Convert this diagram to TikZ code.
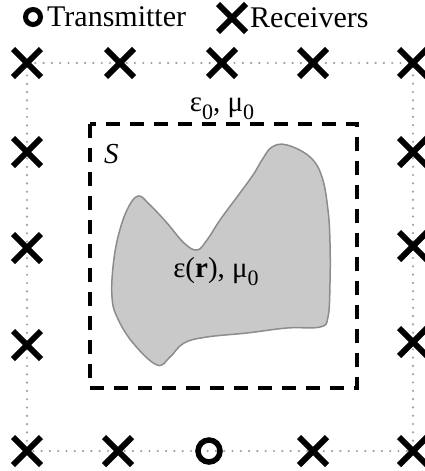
\documentclass[tikz,border=0pt]{standalone}
\usepackage{fontspec}
\setmainfont{Liberation Serif}
\usetikzlibrary{shapes.misc, positioning, calc}
\tikzstyle{receiver} = [cross out, draw=black, line width=6pt, minimum size=22pt, inner sep=0pt]
\tikzstyle{transmitter} = [circle, draw=black, line width=5.5pt, minimum size=22pt, inner sep=0pt]
\tikzstyle{dotline} = [draw=black!38, line width=2.4pt, line cap=round, dash pattern=on 0pt off 8.3pt]
\tikzstyle{regionbox} = [draw=black, line width=3.8pt, dash pattern=on 14pt off 10pt]
\tikzstyle{txt} = [inner sep=0pt, font=\fontsize{29}{31}\selectfont]
\tikzstyle{legtxt} = [inner sep=0pt, font=\fontsize{30}{32}\selectfont]
\newcommand{\lowsub}[1]{\raisebox{-0.3em}{\fontsize{22}{22}\selectfont #1}}

\begin{document}
\begin{tikzpicture}[x=1pt, y=-1pt]
    \useasboundingbox (0,0) rectangle (425,471);

    % Array positions
    \coordinate (t1) at (27,63);
    \coordinate (t2) at (120,63);
    \coordinate (t3) at (222,63);
    \coordinate (t4) at (313,63);
    \coordinate (t5) at (413,63);
    \coordinate (b1) at (27,451);
    \coordinate (b2) at (118,451);
    \coordinate (b3) at (209,451);
    \coordinate (b4) at (313,451);
    \coordinate (b5) at (413,451);
    \coordinate (l1) at (27,152);
    \coordinate (l2) at (27,248);
    \coordinate (l3) at (27,345);
    \coordinate (r1) at (413,152);
    \coordinate (r2) at (413,246);
    \coordinate (r3) at (413,342);

    % Measurement surface
    \draw [dotline] (t1) -- (t5) -- (b5) -- (b1) -- cycle;

    % Domain S
    \draw [regionbox] (90,124) rectangle (357,388);
    \node (S) [txt, anchor=base west, font=\fontsize{29}{31}\selectfont\itshape] at (104,163) {S};

    % Scatterer
    \draw [fill=black!21, draw=black!45, line width=1.5pt]
        plot [smooth cycle, tension=0.65] coordinates {
        (138,196) (127,210) (118,237) (113,267) (112,297) (117,317) (133,343)
        (157,365) (170,357) (184,343) (207,337) (247,333) (287,328) (320,327)
        (328,317) (330,283) (330,243) (328,210) (322,177) (310,157) (287,145)
        (272,147) (262,160) (253,175) (237,197) (220,220) (207,240) (197,250)
        (184,243) (167,223) (150,205)};
    \node (inner) [txt, anchor=base] at (216,277) {ε(\textbf{r}), μ\lowsub{0}};
    \node (outer) [txt, anchor=base] at (222,111) {ε\lowsub{0}, μ\lowsub{0}};

    % Receivers
    \foreach \p in {t1,t2,t3,t4,t5,b1,b2,b4,b5,l1,l2,l3,r1,r2,r3}
        \node (rx-\p) [receiver] at (\p) {};

    % Transmitter
    \node (tx) [transmitter] at (b3) {};

    % Legend
    \node (legtx) [transmitter, minimum size=15pt, line width=5pt] at (33,17) {};
    \node (legtxtx) [legtxt, right=4pt of legtx] {Transmitter};
    \node (legrx) [receiver] at (232,18) {};
    \node (legtxrx) [legtxt, right=4pt of legrx] {Receivers};
\end{tikzpicture}
\end{document}
